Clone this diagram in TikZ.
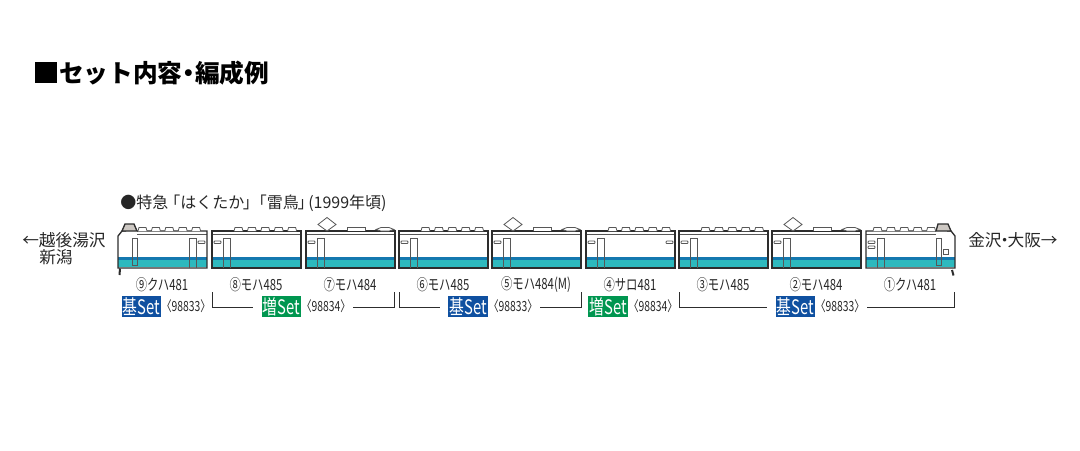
\documentclass[tikz,border=0pt]{standalone}
\usepackage{fontspec}
\setmainfont{Noto Sans CJK JP}
\definecolor{carink}{RGB}{45,45,45}
\definecolor{stripeblue}{RGB}{20,120,175}
\definecolor{stripeteal}{RGB}{45,185,190}
\definecolor{cabgrey}{RGB}{205,200,195}
\definecolor{setblue}{RGB}{15,80,160}
\definecolor{setgreen}{RGB}{0,150,80}
\tikzset{
  carline/.style={draw=carink,line width=1pt},
  thinline/.style={draw=carink!80,line width=0.6pt},
  bracketline/.style={draw=carink,line width=0.6pt},
  carlabel/.style={inner sep=0pt,font=\fontsize{11.5}{13}\selectfont,text=black!85},
  settag/.style={inner sep=0pt,minimum width=29.5pt,minimum height=16pt,text=white,font=\fontsize{15}{16}\selectfont},
  setnumber/.style={anchor=west,inner sep=0pt,font=\fontsize{10.5}{12}\selectfont,text=black!85},
  placename/.style={inner sep=0pt,font=\fontsize{12.5}{15}\selectfont,text=black!85},
}
\newcommand{\narrow}[1]{\scalebox{0.74}[1]{#1}}
% body of a middle car, shift it to the left end of the car
\newcommand{\carbody}{
  \fill [white] (0,231) rectangle (89,268);
  \fill [stripeteal] (0,257) rectangle (89,267);
  \fill [stripeblue] (0,257) rectangle (89,260);
  \draw [thinline] (0,234) -- (89,234);
  \draw [carline] (0,231) rectangle (89,268);
}
\newcommand{\cardoor}[2]{\draw [thinline] (#1,268) -- (#1,238) -- (#2,238) -- (#2,268);}
\newcommand{\carwindow}[2]{\draw [thinline,rounded corners=0.6pt] (#1,#2) rectangle ++(7,2.5);}
\newcommand{\carvents}[1]{
  \foreach \v in {0,...,4}
    \draw [thinline,fill=white] (#1+13.4*\v,231) -- (#1+1+13.4*\v,227.5) -- (#1+8+13.4*\v,227.5) -- (#1+9+13.4*\v,231);
}
\newcommand{\carroofgear}{
  \draw [thinline,fill=white] (21,217.5) -- (30,224.5) -- (21,231) -- (12,224.5) -- cycle;
  \draw [thinline,fill=white] (41,231) -- (41,227) -- (59,227) -- (59,231);
  \draw [thinline,fill=white] (70,229.5) -- (75,227.5) -- (83,227.5) -- (88,229.5) -- (83,231) -- (75,231) -- cycle;
}
\begin{document}
\begin{tikzpicture}[x=0.75pt,y=0.75pt,yscale=-1,xscale=1]
\useasboundingbox (0,0) rectangle (1080,450);

% Title
\fill [black] (35,62) rectangle (57,83);
\node (title) [anchor=west,inner sep=0pt,font=\fontsize{18.5}{20}\bfseries\selectfont] at (59,73) {セット内容\kern-4.5pt・\kern-4.5pt編成例};
\node (train) [anchor=west,inner sep=0pt,font=\fontsize{12}{14}\selectfont,text=black!85] at (120,203) {●特急\kern-3pt「はくたか\kern-1pt」\kern-6pt「雷鳥\kern-1pt」\kern-4pt(1999年頃)};

% Place names
\node (fromplace) [placename,anchor=west] at (22,240) {←越後湯沢};
\node (fromplacetwo) [placename,anchor=west] at (39,257) {新潟};
\node (toplace) [placename,anchor=west] at (968,240) {金沢\kern-4pt・\kern-4pt大阪→};

%Car 9
\begin{scope}[shift={(118,0)}]
\fill [white] (0,236) -- (3,232) -- (89,231) -- (89,268) -- (0,268) -- cycle;
\fill [stripeteal] (0,257) rectangle (89,267);
\fill [stripeblue] (0,257) rectangle (89,260);
\draw [thinline] (19,234) -- (89,234);
\draw [carline] (19,231) -- (89,231) -- (89,268) -- (0,268) -- (0,236) -- (4,231) -- (8,231);
\draw [carline,fill=cabgrey] (4,231) -- (7,224) -- (16,224) -- (19,231) -- cycle;
\draw [carline,line width=1.5pt] (2,268.5) -- (1.5,275);
\draw [thinline] (14,265) -- (14,238) -- (19,238) -- (19,265) -- cycle;
\cardoor{71}{78}
\carwindow{80}{241}
\carvents{20}
\end{scope}

%Car 8
\begin{scope}[shift={(212,0)}]
\carbody
\cardoor{11}{18}
\carwindow{2}{241}
\carvents{22}
\end{scope}

%Car 7
\begin{scope}[shift={(306,0)}]
\carbody
\cardoor{11}{18}
\carwindow{2}{241}
\carroofgear
\end{scope}

%Car 6
\begin{scope}[shift={(399,0)}]
\carbody
\cardoor{11}{18}
\carwindow{2}{241}
\carvents{22}
\end{scope}

%Car 5
\begin{scope}[shift={(492,0)}]
\carbody
\cardoor{11}{18}
\carwindow{2}{241}
\carroofgear
\end{scope}

%Car 4
\begin{scope}[shift={(586,0)}]
\carbody
\cardoor{11}{18}
\carwindow{2}{241}
\carwindow{80}{241}
\carvents{22}
\end{scope}

%Car 3
\begin{scope}[shift={(679,0)}]
\carbody
\cardoor{11}{18}
\carwindow{2}{241}
\carvents{22}
\end{scope}

%Car 2
\begin{scope}[shift={(772,0)}]
\carbody
\cardoor{11}{18}
\carwindow{2}{241}
\carroofgear
\end{scope}

%Car 1
\begin{scope}[shift={(866,0)}]
\fill [white] (0,231) -- (86,231) -- (89,236) -- (89,268) -- (0,268) -- cycle;
\fill [stripeteal] (0,257) rectangle (89,267);
\fill [stripeblue] (0,257) rectangle (89,260);
\draw [thinline] (0,234) -- (70,234);
\draw [carline] (70,231) -- (0,231) -- (0,268) -- (89,268) -- (89,236) -- (85,231) -- (81,231);
\draw [carline,fill=cabgrey] (70,231) -- (72,224) -- (82,224) -- (85,231) -- cycle;
\draw [carline,line width=1.5pt] (86,270) -- (87.5,275.5);
\cardoor{11}{18}
\draw [thinline] (70,265) -- (70,238) -- (75,238) -- (75,265) -- cycle;
\carwindow{2}{241}
\carwindow{2}{246}
\draw [thinline] (77,249) rectangle ++(5,5);
\carvents{7}
\end{scope}

% Car labels
\node (labelnine) [carlabel] at (162,285) {\narrow{⑨クハ481}};
\node (labeleight) [carlabel] at (256,285) {\narrow{⑧モハ485}};
\node (labelseven) [carlabel] at (350,285) {\narrow{⑦モハ484}};
\node (labelsix) [carlabel] at (443,285) {\narrow{⑥モハ485}};
\node (labelfive) [carlabel] at (536,285) {\narrow{⑤モハ484(M)}};
\node (labelfour) [carlabel] at (630,285) {\narrow{④サロ481}};
\node (labelthree) [carlabel] at (723,285) {\narrow{③モハ485}};
\node (labeltwo) [carlabel] at (816,285) {\narrow{②モハ484}};
\node (labelone) [carlabel] at (910,285) {\narrow{①クハ481}};

% Set tags
\node (setnine) [settag,fill=setblue] at (141.5,306.5) {\narrow{基Set}};
\node (setnumnine) [setnumber] at (161,306) {\narrow{〈98833〉}};
\node (seteight) [settag,fill=setgreen] at (281.5,306.5) {\narrow{増Set}};
\node (setnumeight) [setnumber] at (301,306) {\narrow{〈98834〉}};
\node (setsix) [settag,fill=setblue] at (468,306.5) {\narrow{基Set}};
\node (setnumsix) [setnumber] at (488,306) {\narrow{〈98833〉}};
\node (setfour) [settag,fill=setgreen] at (608,306.5) {\narrow{増Set}};
\node (setnumfour) [setnumber] at (628,306) {\narrow{〈98834〉}};
\node (settwo) [settag,fill=setblue] at (795.5,306.5) {\narrow{基Set}};
\node (setnumtwo) [setnumber] at (815,306) {\narrow{〈98833〉}};

% Brackets
\coordinate (brackettop8) at (212,292);
\coordinate (bracketend8) at (253,307);
\coordinate (bracketstart7) at (353,307);
\coordinate (brackettop7) at (394,292);
\coordinate (brackettop6) at (399,292);
\coordinate (bracketend6) at (440,307);
\coordinate (bracketstart5) at (540,307);
\coordinate (brackettop5) at (581,292);
\coordinate (brackettop3) at (679,292);
\coordinate (bracketend3) at (767,307);
\coordinate (bracketstart1) at (867,307);
\coordinate (brackettop1) at (954,292);
\draw [bracketline] (brackettop8) |- (bracketend8);
\draw [bracketline] (bracketstart7) -| (brackettop7);
\draw [bracketline] (brackettop6) |- (bracketend6);
\draw [bracketline] (bracketstart5) -| (brackettop5);
\draw [bracketline] (brackettop3) |- (bracketend3);
\draw [bracketline] (bracketstart1) -| (brackettop1);

\end{tikzpicture}
\end{document}
